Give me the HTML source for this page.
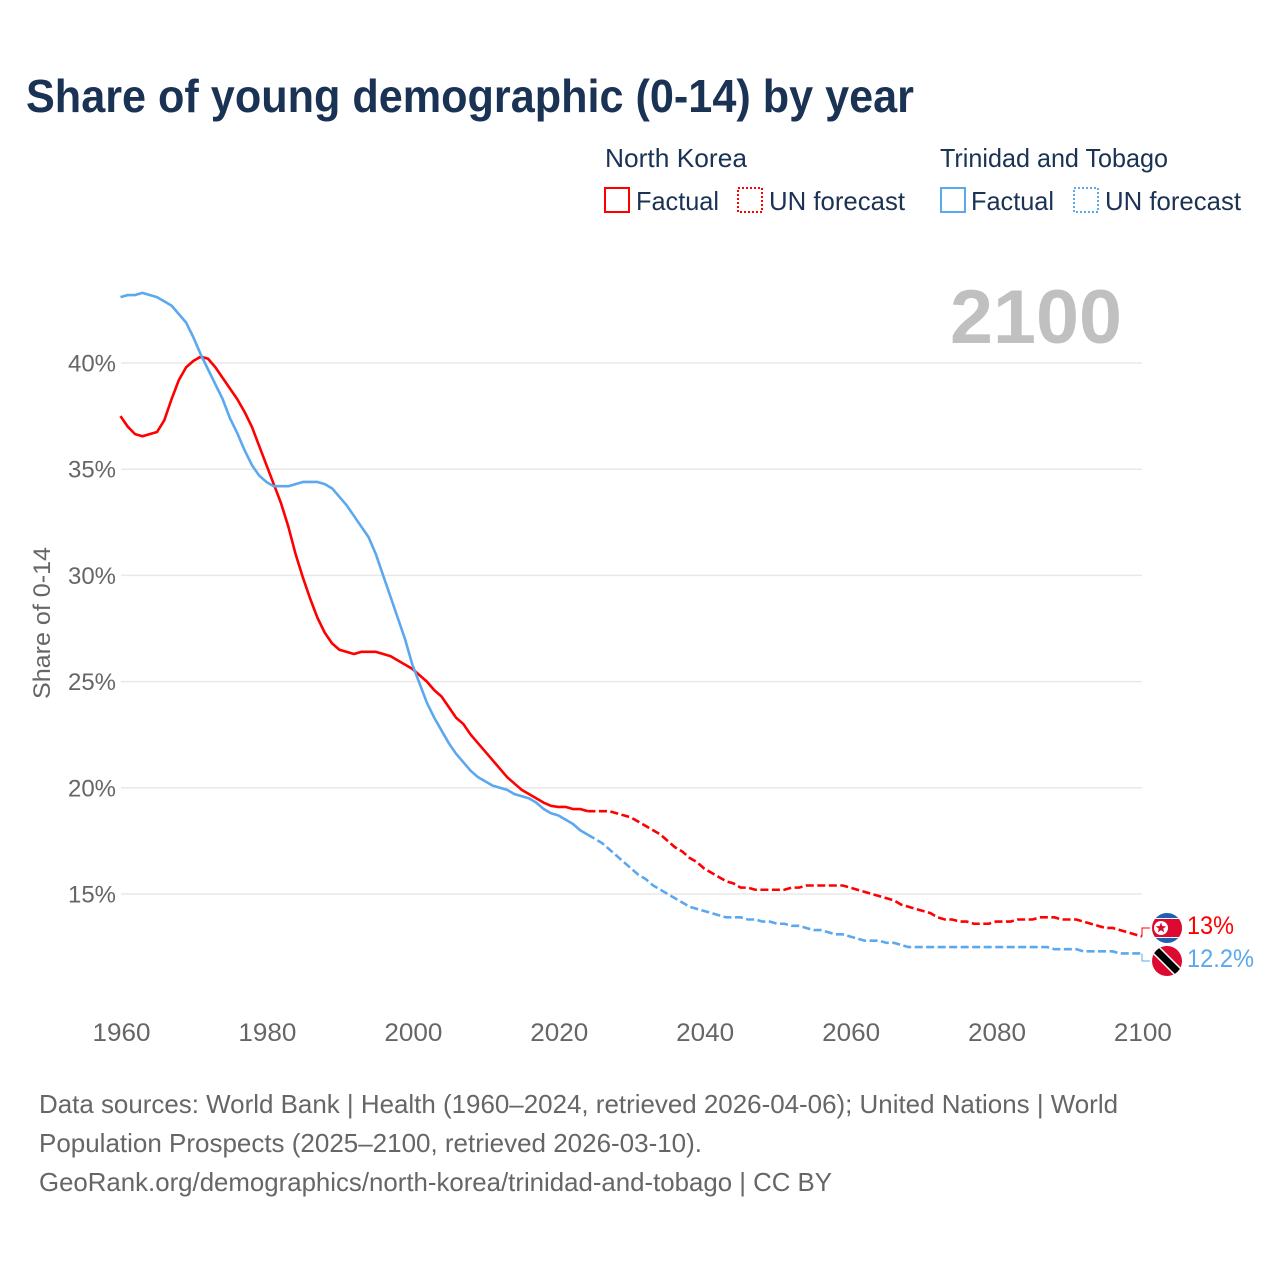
<!DOCTYPE html>
<html lang="en">
<head>
<meta charset="utf-8">
<title>Share of young demographic (0-14) by year</title>
<style>
html,body{margin:0;padding:0;background:#fff;}
svg{display:block;font-family:"Liberation Sans",Arial,sans-serif;}
</style>
</head>
<body>
<svg id="chart" xmlns="http://www.w3.org/2000/svg" width="1280" height="1280" viewBox="0 0 1280 1280">
  <defs>
    <clipPath id="clip-a"><circle cx="1167" cy="928" r="15"/></clipPath>
    <clipPath id="clip-b"><circle cx="1167" cy="961" r="15"/></clipPath>
  </defs>
  <rect x="0" y="0" width="1280" height="1280" fill="#fff"/>
  <text x="26" y="112" font-size="46" font-weight="700" fill="#1a3253" textLength="888" lengthAdjust="spacingAndGlyphs">Share of young demographic (0-14) by year</text>

  <g font-size="26" fill="#1a3253">
    <text x="605" y="167" textLength="142" lengthAdjust="spacingAndGlyphs">North Korea</text>
    <text x="940" y="167" textLength="228" lengthAdjust="spacingAndGlyphs">Trinidad and Tobago</text>
    <rect x="605" y="188" width="24" height="24" fill="none" stroke="#ff0000" stroke-width="2"/>
    <text x="636" y="210" textLength="83" lengthAdjust="spacingAndGlyphs">Factual</text>
    <rect x="738" y="188" width="24" height="24" fill="none" stroke="#ff0000" stroke-width="2" stroke-dasharray="2 2"/>
    <text x="769" y="210" textLength="136" lengthAdjust="spacingAndGlyphs">UN forecast</text>
    <rect x="941" y="188" width="24" height="24" fill="none" stroke="#5ba8ee" stroke-width="2"/>
    <text x="971" y="210" textLength="83" lengthAdjust="spacingAndGlyphs">Factual</text>
    <rect x="1074" y="188" width="24" height="24" fill="none" stroke="#5ba8ee" stroke-width="2" stroke-dasharray="2 2"/>
    <text x="1105" y="210" textLength="136" lengthAdjust="spacingAndGlyphs">UN forecast</text>
  </g>

  <text x="950" y="343" font-size="76" font-weight="700" fill="#c0c0c0" textLength="172" lengthAdjust="spacingAndGlyphs">2100</text>
  <text transform="translate(50 699) rotate(-90)" x="0" y="0" font-size="24" fill="#666" textLength="152" lengthAdjust="spacingAndGlyphs">Share of 0-14</text>

  <g id="grid"></g>
  <g id="xticks"></g>
  <g id="series"></g>

  <g clip-path="url(#clip-a)">
    <rect x="1152" y="913" width="30" height="30" fill="#1f5fb4"/>
    <rect x="1152" y="918" width="30" height="20" fill="#fff"/>
    <rect x="1152" y="919" width="30" height="18" fill="#dc0a30"/>
    <circle cx="1161" cy="928" r="7" fill="#fff"/>
    <polygon points="1161,922.5 1162.4,926.1 1166.2,926.3 1163.2,928.7 1164.2,932.4 1161,930.3 1157.8,932.4 1158.8,928.7 1155.8,926.3 1159.6,926.1" fill="#dc0a30"/>
  </g>
  <g clip-path="url(#clip-b)">
    <rect x="1152" y="946" width="30" height="30" fill="#dc0a30"/>
    <line x1="1152" y1="946" x2="1182" y2="976" stroke="#fff" stroke-width="10"/>
    <line x1="1152" y1="946" x2="1182" y2="976" stroke="#000" stroke-width="7"/>
  </g>
  <text x="1187" y="934" font-size="25" fill="#ff0000" textLength="47" lengthAdjust="spacingAndGlyphs">13%</text>
  <text x="1187" y="967" font-size="25" fill="#5ba8ee" textLength="67" lengthAdjust="spacingAndGlyphs">12.2%</text>

  <g font-size="26" fill="#666">
    <text x="39" y="1113" textLength="1079" lengthAdjust="spacingAndGlyphs">Data sources: World Bank | Health (1960–2024, retrieved 2026-04-06); United Nations | World</text>
    <text x="39" y="1152" textLength="663" lengthAdjust="spacingAndGlyphs">Population Prospects (2025–2100, retrieved 2026-03-10).</text>
    <text x="39" y="1191" textLength="793" lengthAdjust="spacingAndGlyphs">GeoRank.org/demographics/north-korea/trinidad-and-tobago | CC BY</text>
  </g>
</svg>
<script>
const startYear = 1960;
const lastFactualYear = 2024;
const xTickYears = [1960, 1980, 2000, 2020, 2040, 2060, 2080, 2100];
const yTickValues = [15, 20, 25, 30, 35, 40];
const northKorea = [
  37.5,37.0,36.65,36.55,36.65,36.75,37.3,38.3,39.2,39.8,
  40.1,40.3,40.2,39.8,39.3,38.8,38.3,37.7,37.0,36.1,
  35.2,34.3,33.4,32.3,31.0,29.9,28.9,28.0,27.3,26.8,
  26.5,26.4,26.3,26.4,26.4,26.4,26.3,26.2,26.0,25.8,
  25.6,25.3,25.0,24.6,24.3,23.8,23.3,23.0,22.5,22.1,
  21.7,21.3,20.9,20.5,20.2,19.9,19.7,19.5,19.3,19.15,
  19.1,19.1,19.0,19.0,18.9,18.9,18.9,18.9,18.8,18.7,
  18.6,18.4,18.2,18.0,17.8,17.5,17.2,17.0,16.7,16.5,
  16.2,16.0,15.8,15.6,15.5,15.3,15.3,15.2,15.2,15.2,
  15.2,15.2,15.3,15.3,15.4,15.4,15.4,15.4,15.4,15.4,
  15.3,15.2,15.1,15.0,14.9,14.8,14.7,14.5,14.4,14.3,
  14.2,14.1,13.9,13.8,13.8,13.7,13.7,13.6,13.6,13.6,
  13.7,13.7,13.7,13.8,13.8,13.8,13.9,13.9,13.9,13.8,
  13.8,13.8,13.7,13.6,13.5,13.4,13.4,13.3,13.2,13.1,
  13.0
];
const trinidadTobago = [
  43.1,43.2,43.2,43.3,43.2,43.1,42.9,42.7,42.3,41.9,
  41.2,40.4,39.7,39.0,38.3,37.4,36.7,35.9,35.2,34.7,
  34.4,34.2,34.2,34.2,34.3,34.4,34.4,34.4,34.3,34.1,
  33.7,33.3,32.8,32.3,31.8,31.0,30.0,29.0,28.0,27.0,
  25.8,24.9,24.0,23.3,22.7,22.1,21.6,21.2,20.8,20.5,
  20.3,20.1,20.0,19.9,19.7,19.6,19.5,19.3,19.0,18.8,
  18.7,18.5,18.3,18.0,17.8,17.6,17.4,17.1,16.8,16.5,
  16.2,15.9,15.7,15.4,15.2,15.0,14.8,14.6,14.4,14.3,
  14.2,14.1,14.0,13.9,13.9,13.9,13.8,13.8,13.7,13.7,
  13.6,13.6,13.5,13.5,13.4,13.3,13.3,13.2,13.1,13.1,
  13.0,12.9,12.8,12.8,12.8,12.7,12.7,12.6,12.5,12.5,
  12.5,12.5,12.5,12.5,12.5,12.5,12.5,12.5,12.5,12.5,
  12.5,12.5,12.5,12.5,12.5,12.5,12.5,12.5,12.4,12.4,
  12.4,12.4,12.3,12.3,12.3,12.3,12.3,12.2,12.2,12.2,
  12.2
];

const NS = 'http://www.w3.org/2000/svg';
const RED = '#ff0000';
const BLUE = '#5ba8ee';
function xScale(year) { return 120.5 + (year - 1960) * 7.296; }
function yScale(value) { return 894 - (value - 15) * 21.24; }

const gridGroup = document.getElementById('grid');
yTickValues.forEach(function (v) {
  const line = document.createElementNS(NS, 'line');
  
  
  line.setAttribute('x1', 121);
  line.setAttribute('x2', 1142);
  line.setAttribute('y1', yScale(v));
  line.setAttribute('y2', yScale(v));
  line.setAttribute('stroke', '#e8e8e8');
  line.setAttribute('stroke-width', '1.5');
  gridGroup.appendChild(line);
  const label = document.createElementNS(NS, 'text');
  
  
  label.setAttribute('x', 68);
  label.setAttribute('y', yScale(v) + 8.5);
  label.setAttribute('font-size', '24');
  label.setAttribute('fill', '#666');
  label.setAttribute('textLength', '48');
  label.setAttribute('lengthAdjust', 'spacingAndGlyphs');
  label.textContent = v + '%';
  gridGroup.appendChild(label);
});

const xGroup = document.getElementById('xticks');
xTickYears.forEach(function (yr) {
  const label = document.createElementNS(NS, 'text');
  
  
  label.setAttribute('x', xScale(yr) - 28);
  label.setAttribute('y', 1041);
  label.setAttribute('font-size', '25');
  label.setAttribute('fill', '#666');
  label.setAttribute('textLength', '58');
  label.setAttribute('lengthAdjust', 'spacingAndGlyphs');
  label.textContent = yr;
  xGroup.appendChild(label);
});

function pathFor(values, fromIdx, toIdx) {
  let d = '';
  for (let i = fromIdx; i <= toIdx; i++) {
    d += (i === fromIdx ? 'M' : 'L') + xScale(startYear + i).toFixed(2) + ' ' + yScale(values[i]).toFixed(2);
  }
  return d;
}

const seriesGroup = document.getElementById('series');
function drawSeries(values, color, key) {
  const split = lastFactualYear - startYear;
  const solid = document.createElementNS(NS, 'path');
  
  
  solid.setAttribute('d', pathFor(values, 0, split));
  solid.setAttribute('fill', 'none');
  solid.setAttribute('stroke', color);
  solid.setAttribute('stroke-width', '2.6');
  solid.setAttribute('stroke-linejoin', 'round');
  seriesGroup.appendChild(solid);
  const dash = document.createElementNS(NS, 'path');
  
  
  dash.setAttribute('d', pathFor(values, split, values.length - 1));
  dash.setAttribute('fill', 'none');
  dash.setAttribute('stroke', color);
  dash.setAttribute('stroke-width', '2.6');
  dash.setAttribute('stroke-dasharray', '8 3.5');
  seriesGroup.appendChild(dash);
  return yScale(values[values.length - 1]);
}
function drawConnector(fromY, toY, color, key) {
  const c = document.createElementNS(NS, 'path');
  
  
  c.setAttribute('d', 'M1142 ' + fromY + 'V' + toY + 'H1150');
  c.setAttribute('fill', 'none');
  c.setAttribute('stroke', color);
  c.setAttribute('stroke-width', '1');
  seriesGroup.appendChild(c);
}
const nkEnd = drawSeries(northKorea, RED, 'north-korea');
const ttEnd = drawSeries(trinidadTobago, BLUE, 'trinidad-tobago');
drawConnector(nkEnd, 928, RED, 'north-korea');
drawConnector(ttEnd, 961, BLUE, 'trinidad-tobago');
</script>
</body>
</html>
